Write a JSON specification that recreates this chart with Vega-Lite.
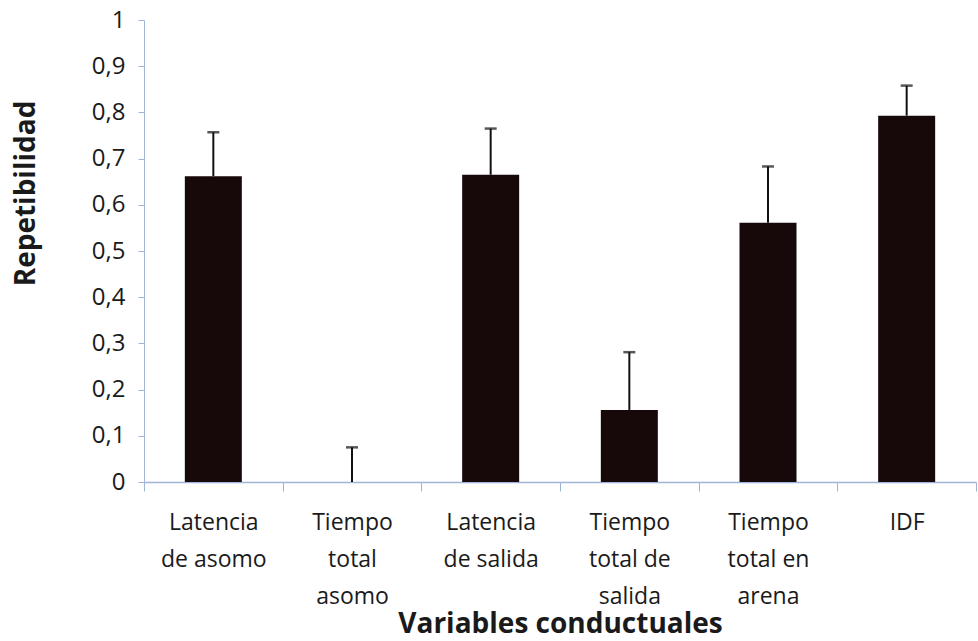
{
  "$schema": "https://vega.github.io/schema/vega-lite/v6.json",
  "width": 832,
  "height": 462,
  "autosize": {"type": "none"},
  "padding": {"left": 144, "top": 20, "right": 2, "bottom": 159},
  "background": "white",
  "config": {
    "view": {"stroke": null},
    "font": "Open Sans",
    "axis": {"grid": false, "domainColor": "#9fb4d8", "tickColor": "#9fb4d8", "labelFont": "Open Sans", "titleFont": "Open Sans", "labelColor": "#1a1a1a", "titleColor": "#1a1a1a"}
  },
  "data": {
    "values": [
      {"variable": "Latencia de asomo", "repetibilidad": 0.662, "superior": 0.757},
      {"variable": "Tiempo total asomo", "repetibilidad": 0.0, "superior": 0.075},
      {"variable": "Latencia de salida", "repetibilidad": 0.665, "superior": 0.765},
      {"variable": "Tiempo total de salida", "repetibilidad": 0.156, "superior": 0.281},
      {"variable": "Tiempo total en arena", "repetibilidad": 0.561, "superior": 0.683},
      {"variable": "IDF", "repetibilidad": 0.793, "superior": 0.858}
    ]
  },
  "encoding": {
    "x": {
      "field": "variable",
      "type": "nominal",
      "sort": null,
      "scale": {"paddingInner": 0, "paddingOuter": 0},
      "axis": {
        "title": "Variables conductuales",
        "titleFontSize": 28,
        "titleFontWeight": "bold",
        "titleBaseline": "alphabetic",
        "titleY": 150,
        "labelAngle": 0,
        "labelFontSize": 23,
        "labelLineHeight": 37,
        "labelBaseline": "top",
        "labelPadding": 20,
        "tickBand": "extent",
        "tickSize": 9,
        "domainWidth": 1.5,
        "labelExpr": "{'Latencia de asomo': ['Latencia', 'de asomo'], 'Tiempo total asomo': ['Tiempo', 'total', 'asomo'], 'Latencia de salida': ['Latencia', 'de salida'], 'Tiempo total de salida': ['Tiempo', 'total de', 'salida'], 'Tiempo total en arena': ['Tiempo', 'total en', 'arena'], 'IDF': ['IDF']}[datum.value]"
      }
    },
    "y": {
      "field": "repetibilidad",
      "type": "quantitative",
      "scale": {"domain": [0, 1]},
      "axis": {
        "title": "Repetibilidad",
        "titleFontSize": 28,
        "titleFontWeight": "bold",
        "titleAngle": -90,
        "titleX": -118,
        "titleY": 173,
        "titleAlign": "center",
        "titleBaseline": "middle",
        "labelFontSize": 24,
        "labelPadding": 13,
        "labelOverlap": false,
        "tickSize": 6,
        "values": [0, 0.1, 0.2, 0.3, 0.4, 0.5, 0.6, 0.7, 0.8, 0.9, 1],
        "labelExpr": "replace(format(datum.value, '.1~f'), '.', ',')"
      }
    }
  },
  "layer": [
    {
      "mark": {"type": "bar", "size": 57, "color": "#170909"}
    },
    {
      "mark": {"type": "rule", "color": "#111111", "strokeWidth": 2},
      "encoding": {
        "y2": {"field": "superior"}
      }
    },
    {
      "mark": {"type": "tick", "color": "#111111", "size": 12, "thickness": 2.5, "orient": "horizontal"},
      "encoding": {
        "y": {"field": "superior", "type": "quantitative"}
      }
    }
  ]
}
